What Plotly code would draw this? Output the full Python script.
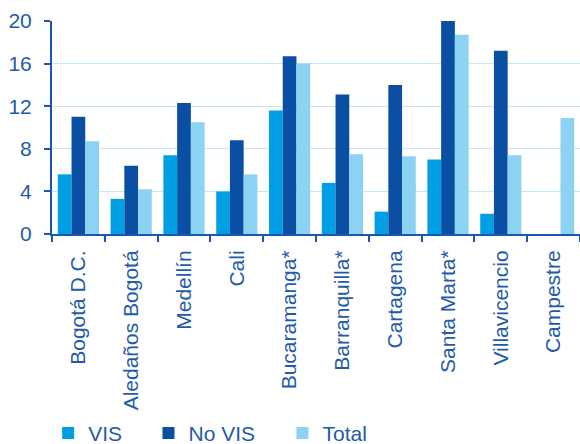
import plotly.graph_objects as go

# Categories and series values
ciudades = ["Bogotá D.C.", "Aledaños Bogotá", "Medellín", "Cali", "Bucaramanga*",
            "Barranquilla*", "Cartagena", "Santa Marta*", "Villavicencio", "Campestre"]
vis = [5.6, 3.3, 7.4, 4.0, 11.6, 4.8, 2.1, 7.0, 1.9, None]
no_vis = [11.0, 6.4, 12.3, 8.8, 16.7, 13.1, 14.0, 20.0, 17.2, None]
total = [8.7, 4.2, 10.5, 5.6, 16.0, 7.5, 7.3, 18.7, 7.4, 10.9]
y_ticks = [0, 4, 8, 12, 16, 20]

FONT = "Liberation Sans, Arial, sans-serif"
TEXT = "#1F5BAA"
AXIS = "#1B56B0"
FS = 21

series = [
    ("VIS", vis, "#009FE3", "legend"),
    ("No VIS", no_vis, "#0A4FA3", "legend2"),
    ("Total", total, "#8BD2F3", "legend3"),
]

fig = go.Figure()
for name, vals, color, leg in series:
    fig.add_trace(go.Bar(
        x=ciudades, y=vals, name=name,
        marker=dict(color=color, line=dict(width=0)),
        legend=leg, showlegend=True,
    ))

legend_common = dict(
    orientation="h", yanchor="middle", xanchor="left",
    xref="container", yref="container", y=0.024,
    font=dict(family=FONT, size=FS, color=TEXT),
    bgcolor="rgba(0,0,0,0)", borderwidth=0,
)

fig.update_layout(
    width=580, height=444,
    showlegend=True,
    margin=dict(l=52, r=0, t=21, b=210, autoexpand=False),
    paper_bgcolor="white", plot_bgcolor="white",
    barmode="group", bargap=0.22, bargroupgap=0,
    font=dict(family=FONT, size=FS, color=TEXT),
    legend=dict(x=0.083, **legend_common),
    legend2=dict(x=0.256, **legend_common),
    legend3=dict(x=0.487, **legend_common),
    xaxis=dict(
        showline=True, linecolor=AXIS, linewidth=2,
        ticks="outside", tickson="boundaries", ticklen=6, tickwidth=2, tickcolor=AXIS,
        tickangle=-90, tickfont=dict(family=FONT, size=FS, color=TEXT),
        ticklabelstandoff=6, automargin=False,
        showgrid=False,
    ),
    yaxis=dict(
        range=[0, 20], tickvals=y_ticks,
        showline=True, linecolor=AXIS, linewidth=2,
        ticks="outside", ticklen=6, tickwidth=2, tickcolor=AXIS,
        tickfont=dict(family=FONT, size=FS, color=TEXT),
        ticklabelstandoff=8, automargin=False,
        showgrid=True, gridcolor="#C3E7F8", gridwidth=1,
        zeroline=False,
    ),
)

fig.write_html("out.html")
